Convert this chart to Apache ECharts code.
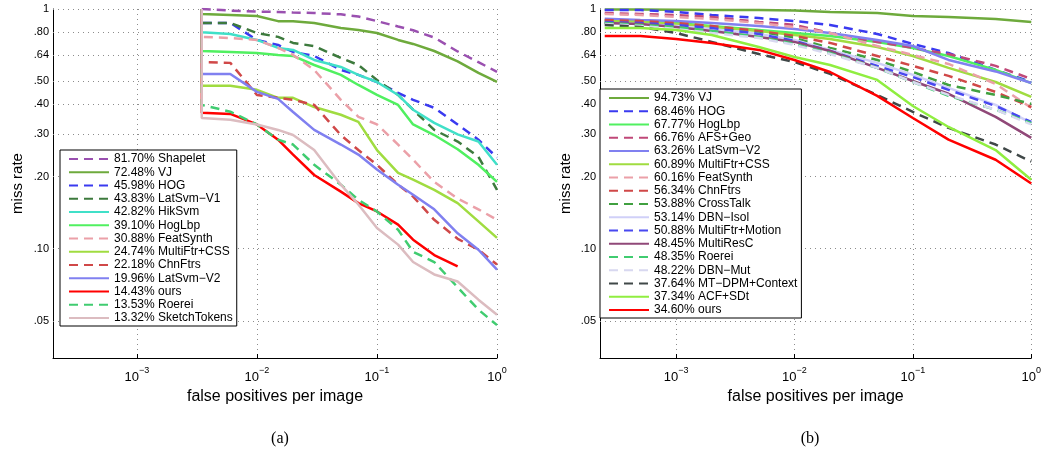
<!DOCTYPE html>
<html>
<head>
<meta charset="utf-8">
<script src="https://cdn.jsdelivr.net/npm/echarts@6/dist/echarts.min.js"></script>
<style>html,body{margin:0;background:#fff}#chart{width:1044px;height:451px}</style>
</head>
<body>
<div id="chart"></div>
<script>
// y tick values and their labels (log axis, MATLAB style)
var yTicks = [1, 0.8, 0.64, 0.5, 0.4, 0.3, 0.2, 0.1, 0.05];
var yTickLabels = ['1', '.80', '.64', '.50', '.40', '.30', '.20', '.10', '.05'];

// ---- panel (a) ----
var fppiA = [0.00347, 0.00347, 0.006, 0.01, 0.015, 0.02, 0.03, 0.05, 0.07, 0.1, 0.15, 0.2, 0.3, 0.47, 0.7, 1];
var methodsA = ['Shapelet', 'VJ', 'HOG', 'LatSvm\u2212V1', 'HikSvm', 'HogLbp', 'FeatSynth', 'MultiFtr+CSS', 'ChnFtrs', 'LatSvm\u2212V2', 'ours', 'Roerei', 'SketchTokens'];
var scoresA = [81.70, 72.48, 45.98, 43.83, 42.82, 39.10, 30.88, 24.74, 22.18, 19.96, 14.43, 13.53, 13.32];
var aShapelet = [1, 0.99, 0.985, 0.975, 0.972, 0.967, 0.962, 0.95, 0.93, 0.89, 0.845, 0.815, 0.76, 0.665, 0.6, 0.547];
var aVJ = [1, 0.953, 0.944, 0.935, 0.89, 0.89, 0.874, 0.833, 0.817, 0.794, 0.743, 0.715, 0.668, 0.605, 0.541, 0.496];
var aHOG = [1, 0.875, 0.875, 0.743, 0.708, 0.662, 0.637, 0.557, 0.531, 0.496, 0.447, 0.418, 0.387, 0.33, 0.285, 0.24];
var aLatSvmV1 = [1, 0.875, 0.875, 0.794, 0.765, 0.722, 0.70, 0.625, 0.584, 0.506, 0.438, 0.38, 0.313, 0.28, 0.242, 0.176];
var aHikSvm = [1, 0.80, 0.787, 0.743, 0.688, 0.675, 0.613, 0.573, 0.531, 0.496, 0.438, 0.38, 0.335, 0.30, 0.28, 0.224];
var aHogLbp = [1, 0.668, 0.662, 0.655, 0.643, 0.637, 0.584, 0.531, 0.482, 0.438, 0.398, 0.33, 0.298, 0.26, 0.224, 0.19];
var aFeatSynth = [1, 0.765, 0.757, 0.743, 0.688, 0.643, 0.557, 0.418, 0.355, 0.33, 0.272, 0.235, 0.19, 0.162, 0.146, 0.132];
var aMultiFtrCSS = [1, 0.478, 0.478, 0.46, 0.426, 0.426, 0.39, 0.362, 0.338, 0.258, 0.207, 0.194, 0.176, 0.155, 0.13, 0.111];
var aChnFtrs = [1, 0.601, 0.596, 0.438, 0.426, 0.418, 0.398, 0.298, 0.258, 0.224, 0.185, 0.165, 0.132, 0.11, 0.099, 0.0859];
var aLatSvmV2 = [1, 0.536, 0.536, 0.451, 0.422, 0.372, 0.313, 0.272, 0.247, 0.214, 0.185, 0.168, 0.146, 0.116, 0.099, 0.0818];
var aOurs = [1, 0.369, 0.365, 0.33, 0.285, 0.247, 0.203, 0.173, 0.155, 0.143, 0.126, 0.109, 0.0941, 0.0844, null, null];
var aRoerei = [1, 0.398, 0.373, 0.33, 0.285, 0.272, 0.224, 0.185, 0.16, 0.143, 0.12, 0.097, 0.088, 0.069, 0.0557, 0.048];
var aSketchTokens = [1, 0.351, 0.345, 0.33, 0.313, 0.298, 0.258, 0.185, 0.153, 0.122, 0.104, 0.088, 0.0781, 0.073, 0.0613, 0.053];
var curvesA = [aShapelet, aVJ, aHOG, aLatSvmV1, aHikSvm, aHogLbp, aFeatSynth, aMultiFtrCSS, aChnFtrs, aLatSvmV2, aOurs, aRoerei, aSketchTokens];
var colorsA = ['#9a50b0', '#6eaa3c', '#3a3af0', '#3d7a3d', '#40e0c8', '#50f060', '#eba0a8', '#a0dc40', '#d04848', '#8080f0', '#ff0000', '#40cc70', '#dcbcc0'];
var dashedA = [1, 0, 1, 1, 0, 0, 1, 0, 1, 0, 0, 1, 0];

// ---- panel (b) ----
var fppiB = [0.00025, 0.0005, 0.001, 0.002, 0.005, 0.01, 0.02, 0.05, 0.1, 0.2, 0.5, 1];
var methodsB = ['VJ', 'HOG', 'HogLbp', 'AFS+Geo', 'LatSvm\u2212V2', 'MultiFtr+CSS', 'FeatSynth', 'ChnFtrs', 'CrossTalk', 'DBN\u2212Isol', 'MultiFtr+Motion', 'MultiResC', 'Roerei', 'DBN\u2212Mut', 'MT\u2212DPM+Context', 'ACF+SDt', 'ours'];
var scoresB = [94.73, 68.46, 67.77, 66.76, 63.26, 60.89, 60.16, 56.34, 53.88, 53.14, 50.88, 48.45, 48.35, 48.22, 37.64, 37.34, 34.60];
var bVJ = [0.995, 0.995, 0.993, 0.99, 0.99, 0.985, 0.972, 0.962, 0.935, 0.926, 0.909, 0.883];
var bHOG = [0.99, 0.99, 0.972, 0.944, 0.917, 0.891, 0.858, 0.787, 0.715, 0.655, 0.557, 0.496];
var bHogLbp = [0.90, 0.891, 0.874, 0.849, 0.817, 0.794, 0.772, 0.729, 0.688, 0.637, 0.557, 0.491];
var bAFSGeo = [0.962, 0.953, 0.944, 0.926, 0.883, 0.858, 0.794, 0.729, 0.688, 0.649, 0.579, 0.511];
var bLatSvmV2 = [0.911, 0.90, 0.891, 0.874, 0.849, 0.825, 0.794, 0.743, 0.701, 0.613, 0.549, 0.491];
var bMultiFtrCSS = [0.891, 0.883, 0.866, 0.841, 0.81, 0.779, 0.75, 0.694, 0.637, 0.568, 0.496, 0.43];
var bFeatSynth = [0.953, 0.944, 0.926, 0.909, 0.874, 0.841, 0.794, 0.701, 0.643, 0.59, 0.487, 0.387];
var bChnFtrs = [0.90, 0.891, 0.874, 0.849, 0.81, 0.772, 0.722, 0.637, 0.579, 0.526, 0.451, 0.39];
var bCrossTalk = [0.874, 0.866, 0.849, 0.825, 0.794, 0.757, 0.688, 0.613, 0.546, 0.482, 0.438, 0.402];
var bDBNIsol = [0.874, 0.866, 0.849, 0.825, 0.787, 0.743, 0.675, 0.596, 0.531, 0.469, 0.398, 0.335];
var bMultiFtrMotion = [0.883, 0.874, 0.858, 0.833, 0.787, 0.736, 0.668, 0.579, 0.52, 0.46, 0.394, 0.338];
var bMultiResC = [0.874, 0.866, 0.841, 0.81, 0.765, 0.729, 0.668, 0.568, 0.501, 0.443, 0.355, 0.29];
var bRoerei = [0.874, 0.858, 0.841, 0.81, 0.765, 0.715, 0.655, 0.568, 0.496, 0.434, 0.38, 0.334];
var bDBNMut = [0.866, 0.849, 0.825, 0.794, 0.757, 0.708, 0.649, 0.568, 0.496, 0.438, 0.38, 0.33];
var bMTDPM = [0.858, 0.841, 0.794, 0.729, 0.649, 0.601, 0.536, 0.438, 0.372, 0.319, 0.272, 0.231];
var bACFSDt = [0.833, 0.833, 0.817, 0.779, 0.694, 0.631, 0.584, 0.506, 0.394, 0.322, 0.258, 0.194];
var bOurs = [0.772, 0.772, 0.75, 0.722, 0.675, 0.613, 0.546, 0.434, 0.351, 0.285, 0.235, 0.187];
var curvesB = [bVJ, bHOG, bHogLbp, bAFSGeo, bLatSvmV2, bMultiFtrCSS, bFeatSynth, bChnFtrs, bCrossTalk, bDBNIsol, bMultiFtrMotion, bMultiResC, bRoerei, bDBNMut, bMTDPM, bACFSDt, bOurs];
var colorsB = ['#6eaa3c', '#3a3af0', '#50f060', '#c04878', '#8080f0', '#a0dc40', '#eba0a8', '#d04848', '#40a040', '#d0d0f8', '#4848f0', '#904878', '#40cc70', '#d8d8f0', '#404848', '#90ee40', '#ff0000'];
var dashedB = [0, 1, 0, 1, 0, 0, 1, 1, 1, 0, 1, 0, 1, 1, 1, 0, 0];

var FONT = '"Liberation Sans", Arial, Helvetica, sans-serif';

function legendNames(methods, scores) {
    return methods.map(function (m, i) { return scores[i].toFixed(2) + '% ' + m; });
}
var namesA = legendNames(methodsA, scoresA);
var namesB = legendNames(methodsB, scoresB);

function curveSeries(names, curves, fppi, colors, dashed, k) {
    return curves.map(function (c, i) {
        var pts = [];
        for (var j = 0; j < fppi.length; j++) {
            if (c[j] != null) pts.push([fppi[j], c[j]]);
        }
        return {
            name: names[i], type: 'line', xAxisIndex: k, yAxisIndex: k,
            data: pts, symbol: 'none', showSymbol: false, z: 2,
            lineStyle: { color: colors[i], width: 2.5, type: dashed[i] ? [9, 6] : 'solid' },
            itemStyle: { color: colors[i] }
        };
    });
}

// dotted horizontal grid + y tick labels at the MATLAB tick values
function gridSeries(k) {
    return {
        type: 'line', xAxisIndex: k, yAxisIndex: k, data: [], silent: true,
        markLine: {
            silent: true, symbol: ['none', 'none'], z: 1, animation: false,
            lineStyle: { color: '#8c8c8c', type: [1, 4], width: 1 },
            label: { show: true, position: 'start', formatter: '{b}', color: '#000', fontSize: 11, fontFamily: FONT, distance: 4 },
            data: yTicks.map(function (v, i) { return { yAxis: v, name: yTickLabels[i] }; })
        }
    };
}

function xAxisOf(k, min) {
    return {
        gridIndex: k, type: 'log', logBase: 10, min: min, max: 1,
        name: 'false positives per image', nameLocation: 'middle', nameGap: 25,
        nameTextStyle: { color: '#000', fontSize: 16, fontFamily: FONT },
        axisLine: { lineStyle: { color: '#000', width: 1 } },
        axisTick: { inside: true, length: 4, lineStyle: { color: '#000' } },
        splitLine: { show: true, lineStyle: { color: '#8c8c8c', type: [1, 4], width: 1 } },
        axisLabel: {
            margin: 8, color: '#000', fontFamily: FONT,
            formatter: function (v) {
                var e = Math.log10(v);
                if (Math.abs(e - Math.round(e)) > 1e-6) return '';
                var n = Math.round(e);
                return '{b|10}{s|' + (n < 0 ? '\u2212' + (-n) : n) + '}';
            },
            rich: {
                b: { fontSize: 13, fontFamily: FONT, color: '#000', verticalAlign: 'bottom', lineHeight: 18 },
                s: { fontSize: 9, fontFamily: FONT, color: '#000', verticalAlign: 'top', lineHeight: 18 }
            }
        }
    };
}

function yAxisOf(k, gap) {
    return {
        gridIndex: k, type: 'log', logBase: 10, min: 0.035, max: 1,
        name: 'miss rate', nameLocation: 'middle', nameGap: gap, nameRotate: 90,
        nameTextStyle: { color: '#000', fontSize: 15, fontFamily: FONT },
        axisLine: { lineStyle: { color: '#000', width: 1 } },
        axisTick: { show: false },
        splitLine: { show: false },
        axisLabel: { show: false }
    };
}

function legendOf(names, left, top) {
    return {
        data: names, orient: 'vertical', left: left, top: top,
        itemWidth: 40, itemHeight: 14, itemGap: 1.25, padding: [3, 4, 2, 8],
        borderColor: '#000', borderWidth: 1, backgroundColor: '#fff',
        selectedMode: false,
        itemStyle: { opacity: 0 },
        textStyle: { color: '#000', fontSize: 12, fontFamily: FONT }
    };
}

var series = []
    .concat([gridSeries(0), gridSeries(1)])
    .concat(curveSeries(namesA, curvesA, fppiA, colorsA, dashedA, 0))
    .concat(curveSeries(namesB, curvesB, fppiB, colorsB, dashedB, 1));

var option = {
    backgroundColor: '#fff',
    animation: false,
    grid: [
        { left: 53, top: 9, width: 444, height: 349 },
        { left: 600, top: 9, width: 436, height: 349 }
    ],
    title: [
        { text: '(a)', left: 275, top: 426, textAlign: 'center', textStyle: { fontSize: 16, fontWeight: 'normal', color: '#000', fontFamily: '"Liberation Serif", "Times New Roman", serif' } },
        { text: '(b)', left: 805, top: 426, textAlign: 'center', textStyle: { fontSize: 16, fontWeight: 'normal', color: '#000', fontFamily: '"Liberation Serif", "Times New Roman", serif' } }
    ],
    legend: [legendOf(namesA, 60, 150), legendOf(namesB, 600, 89)],
    xAxis: [xAxisOf(0, 2e-4), xAxisOf(1, 2.28e-4)],
    yAxis: [yAxisOf(0, 28), yAxisOf(1, 27)],
    series: series
};

var myChart = echarts.init(document.getElementById('chart'), null, { renderer: 'canvas' });
myChart.setOption(option);
</script>
</body>
</html>
